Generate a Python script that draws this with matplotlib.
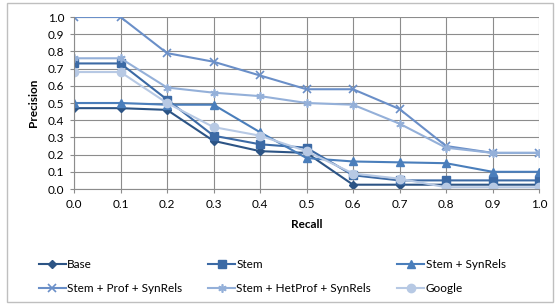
import matplotlib.pyplot as plt
from matplotlib.patches import Rectangle
from matplotlib.ticker import FormatStrFormatter

plt.rcParams['font.family'] = ['Lato', 'DejaVu Sans']

recall = [0.0, 0.1, 0.2, 0.3, 0.4, 0.5, 0.6, 0.7, 0.8, 0.9, 1.0]
base = [0.47, 0.47, 0.46, 0.28, 0.22, 0.21, 0.025, 0.025, 0.025, 0.025, 0.025]
stem = [0.73, 0.73, 0.52, 0.31, 0.26, 0.24, 0.08, 0.05, 0.05, 0.05, 0.05]
stem_syn = [0.50, 0.50, 0.49, 0.49, 0.33, 0.18, 0.16, 0.155, 0.15, 0.10, 0.10]
stem_prof = [1.0, 1.0, 0.79, 0.74, 0.66, 0.58, 0.58, 0.465, 0.25, 0.21, 0.21]
stem_het = [0.76, 0.76, 0.59, 0.56, 0.54, 0.50, 0.49, 0.38, 0.24, 0.21, 0.21]
google = [0.68, 0.68, 0.50, 0.36, 0.31, 0.22, 0.09, 0.06, 0.01, 0.01, 0.01]

fig = plt.figure(figsize=(5.57, 3.06), dpi=100)
fig.patches.append(Rectangle((7/557, 1-302/306), 546/557, 299/306,
                             transform=fig.transFigure, fill=False,
                             edgecolor='#BFBFBF', lw=1))
ax = fig.add_axes([74/557, 1-189/306, 465/557, 172/306])

lw = 1.5
h1, = ax.plot(recall, base, color='#2C5485', marker='D', ms=4, lw=lw, label='Base')
h2, = ax.plot(recall, stem, color='#3C6AA5', marker='s', ms=5.5, lw=lw, label='Stem')
h3, = ax.plot(recall, stem_syn, color='#4A7EBB', marker='^', ms=5.5, lw=lw, label='Stem + SynRels')
h4, = ax.plot(recall, stem_prof, color='#6A8FC8', marker='x', ms=6, mew=1.2, lw=lw, label='Stem + Prof + SynRels')
h5, = ax.plot(recall, stem_het, color='#94B0D9', marker=(6, 2, 0), ms=6, mew=1.2, lw=lw, label='Stem + HetProf + SynRels')
h6, = ax.plot(recall, google, color='#B7C9E4', marker='o', ms=6, lw=lw, label='Google')

ax.set_xlim(0, 1.0)
ax.set_ylim(0, 1.0)
ax.set_xticks([i / 10 for i in range(11)])
ax.set_yticks([i / 10 for i in range(11)])
ax.xaxis.set_major_formatter(FormatStrFormatter('%.1f'))
ax.yaxis.set_major_formatter(FormatStrFormatter('%.1f'))
ax.grid(True, color='#8C8C8C', lw=0.8)
ax.set_axisbelow(True)
for s in ['top', 'right']:
    ax.spines[s].set_visible(False)
for s in ['left', 'bottom']:
    ax.spines[s].set_color('#8C8C8C')
ax.tick_params(labelsize=8.5, length=3, color='#8C8C8C', pad=4)
ax.set_xlabel('Recall', fontsize=8.5, fontweight='bold', labelpad=7)
ax.set_ylabel('Precision', fontsize=8.5, fontweight='bold', labelpad=6)

handles = [h1, h4, h2, h5, h3, h6]
fig.legend(handles=handles, labels=[h.get_label() for h in handles], ncol=3,
           loc='upper left', bbox_to_anchor=(34/557, 1-254/306), frameon=False,
           fontsize=8.5, handlelength=2.3, handletextpad=0.1, columnspacing=2.2,
           labelspacing=1.1, borderaxespad=0)

fig.savefig('out.png', dpi=100)
